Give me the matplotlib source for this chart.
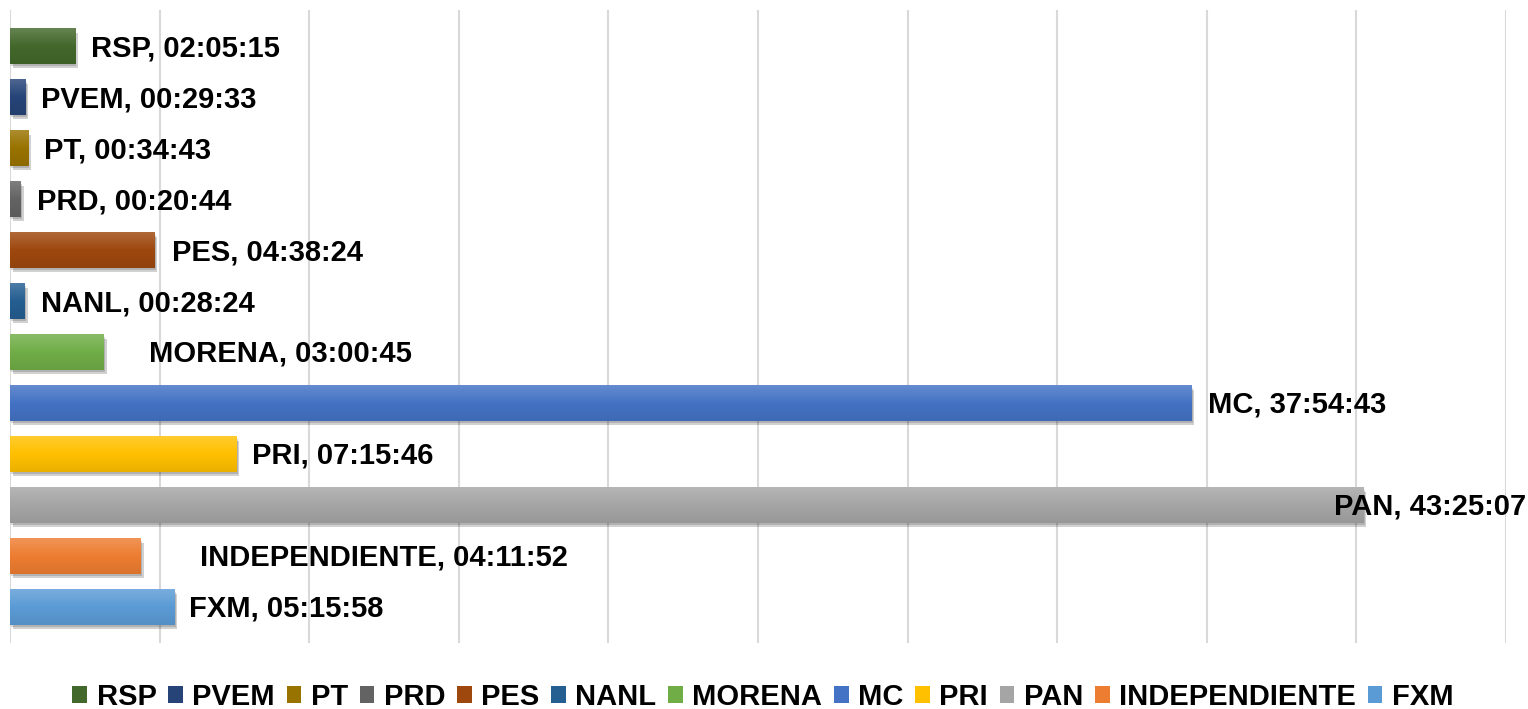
import numpy as np
import matplotlib.pyplot as plt
import matplotlib.patheffects as pe
from matplotlib.colors import to_rgb

plt.rcParams['font.family'] = ['Liberation Sans', 'DejaVu Sans']
plt.rcParams['font.weight'] = 'bold'

# data (top to bottom)
parties = ['RSP', 'PVEM', 'PT', 'PRD', 'PES', 'NANL', 'MORENA', 'MC', 'PRI', 'PAN',
           'INDEPENDIENTE', 'FXM']
times = ['02:05:15', '00:29:33', '00:34:43', '00:20:44', '04:38:24', '00:28:24',
         '03:00:45', '37:54:43', '07:15:46', '43:25:07', '04:11:52', '05:15:58']
colors = ['#43682B', '#264478', '#997300', '#636363', '#9E480E', '#255E91',
          '#70AD47', '#4472C4', '#FFC000', '#A5A5A5', '#ED7D31', '#5B9BD5']

hours = [int(h) + int(m) / 60 + int(s) / 3600 for h, m, s in (t.split(':') for t in times)]

# label offsets in pixels from bar end (labels were moved by hand in the original)
label_dx = [16, 16, 16, 16, 17, 16, 45, 16, 16, -29, 59, 15]


def shade(c, f):
    r = np.array(to_rgb(c))
    return r + (1 - r) * f if f > 0 else r * (1 + f)


fig = plt.figure(figsize=(15.28, 7.09), dpi=100)
ax = fig.add_axes([10 / 1528, 1 - 643 / 709, 1496 / 1528, 633 / 709])

ypos = np.arange(len(parties))
bars = []
for i, (p, h, c) in enumerate(zip(parties, hours, colors)):
    b = ax.barh(ypos[i], h, height=0.69, color=c, label=p, zorder=3,
                path_effects=[pe.SimplePatchShadow(offset=(2, -3), alpha=0.18, shadow_rgbFace='k'),
                              pe.SimplePatchShadow(offset=(1, -2), alpha=0.15, shadow_rgbFace='k'),
                              pe.Normal()])
    bars.append(b)
    rect = b.patches[0]
    x0, y0 = rect.get_x(), rect.get_y()
    w, hh = rect.get_width(), rect.get_height()
    grad = np.array([shade(c, 0.18), shade(c, 0.0), shade(c, -0.08)])
    g = np.linspace(0, 1, 50)
    img = np.array([np.interp(g, [0, 0.5, 1], grad[:, k]) for k in range(3)]).T[:, None, :]
    im = ax.imshow(img, extent=[x0, x0 + w, y0 + hh, y0], aspect='auto', zorder=4,
                   interpolation='bilinear')
    im.set_clip_path(rect)
    ax.annotate(f'{p}, {times[i]}', xy=(h, ypos[i]), xytext=(label_dx[i], -2),
                textcoords='offset pixels', va='center', ha='left', fontsize=21,
                fontweight='bold', color='black', zorder=6)

ax.set_xlim(0, 48)
ax.set_ylim(11.706, -0.706)
ax.set_xticks(np.arange(0, 48.01, 4.8))
ax.set_yticks([])
ax.tick_params(axis='x', length=0, labelbottom=False)
ax.grid(axis='x', color='#D9D9D9', linewidth=1.5, zorder=0)
for s in ax.spines.values():
    s.set_visible(False)

leg = fig.legend(handles=[b.patches[0] for b in bars], labels=parties, loc='center',
                 bbox_to_anchor=(763 / 1528, 1 - 697 / 709), ncol=12, frameon=False,
                 handlelength=0.5, handleheight=0.5, handletextpad=0.33,
                 columnspacing=0.4, prop={'weight': 'bold', 'size': 21})
for h in leg.legend_handles:
    h.set_path_effects([])

fig.savefig('out.png', dpi=100)
